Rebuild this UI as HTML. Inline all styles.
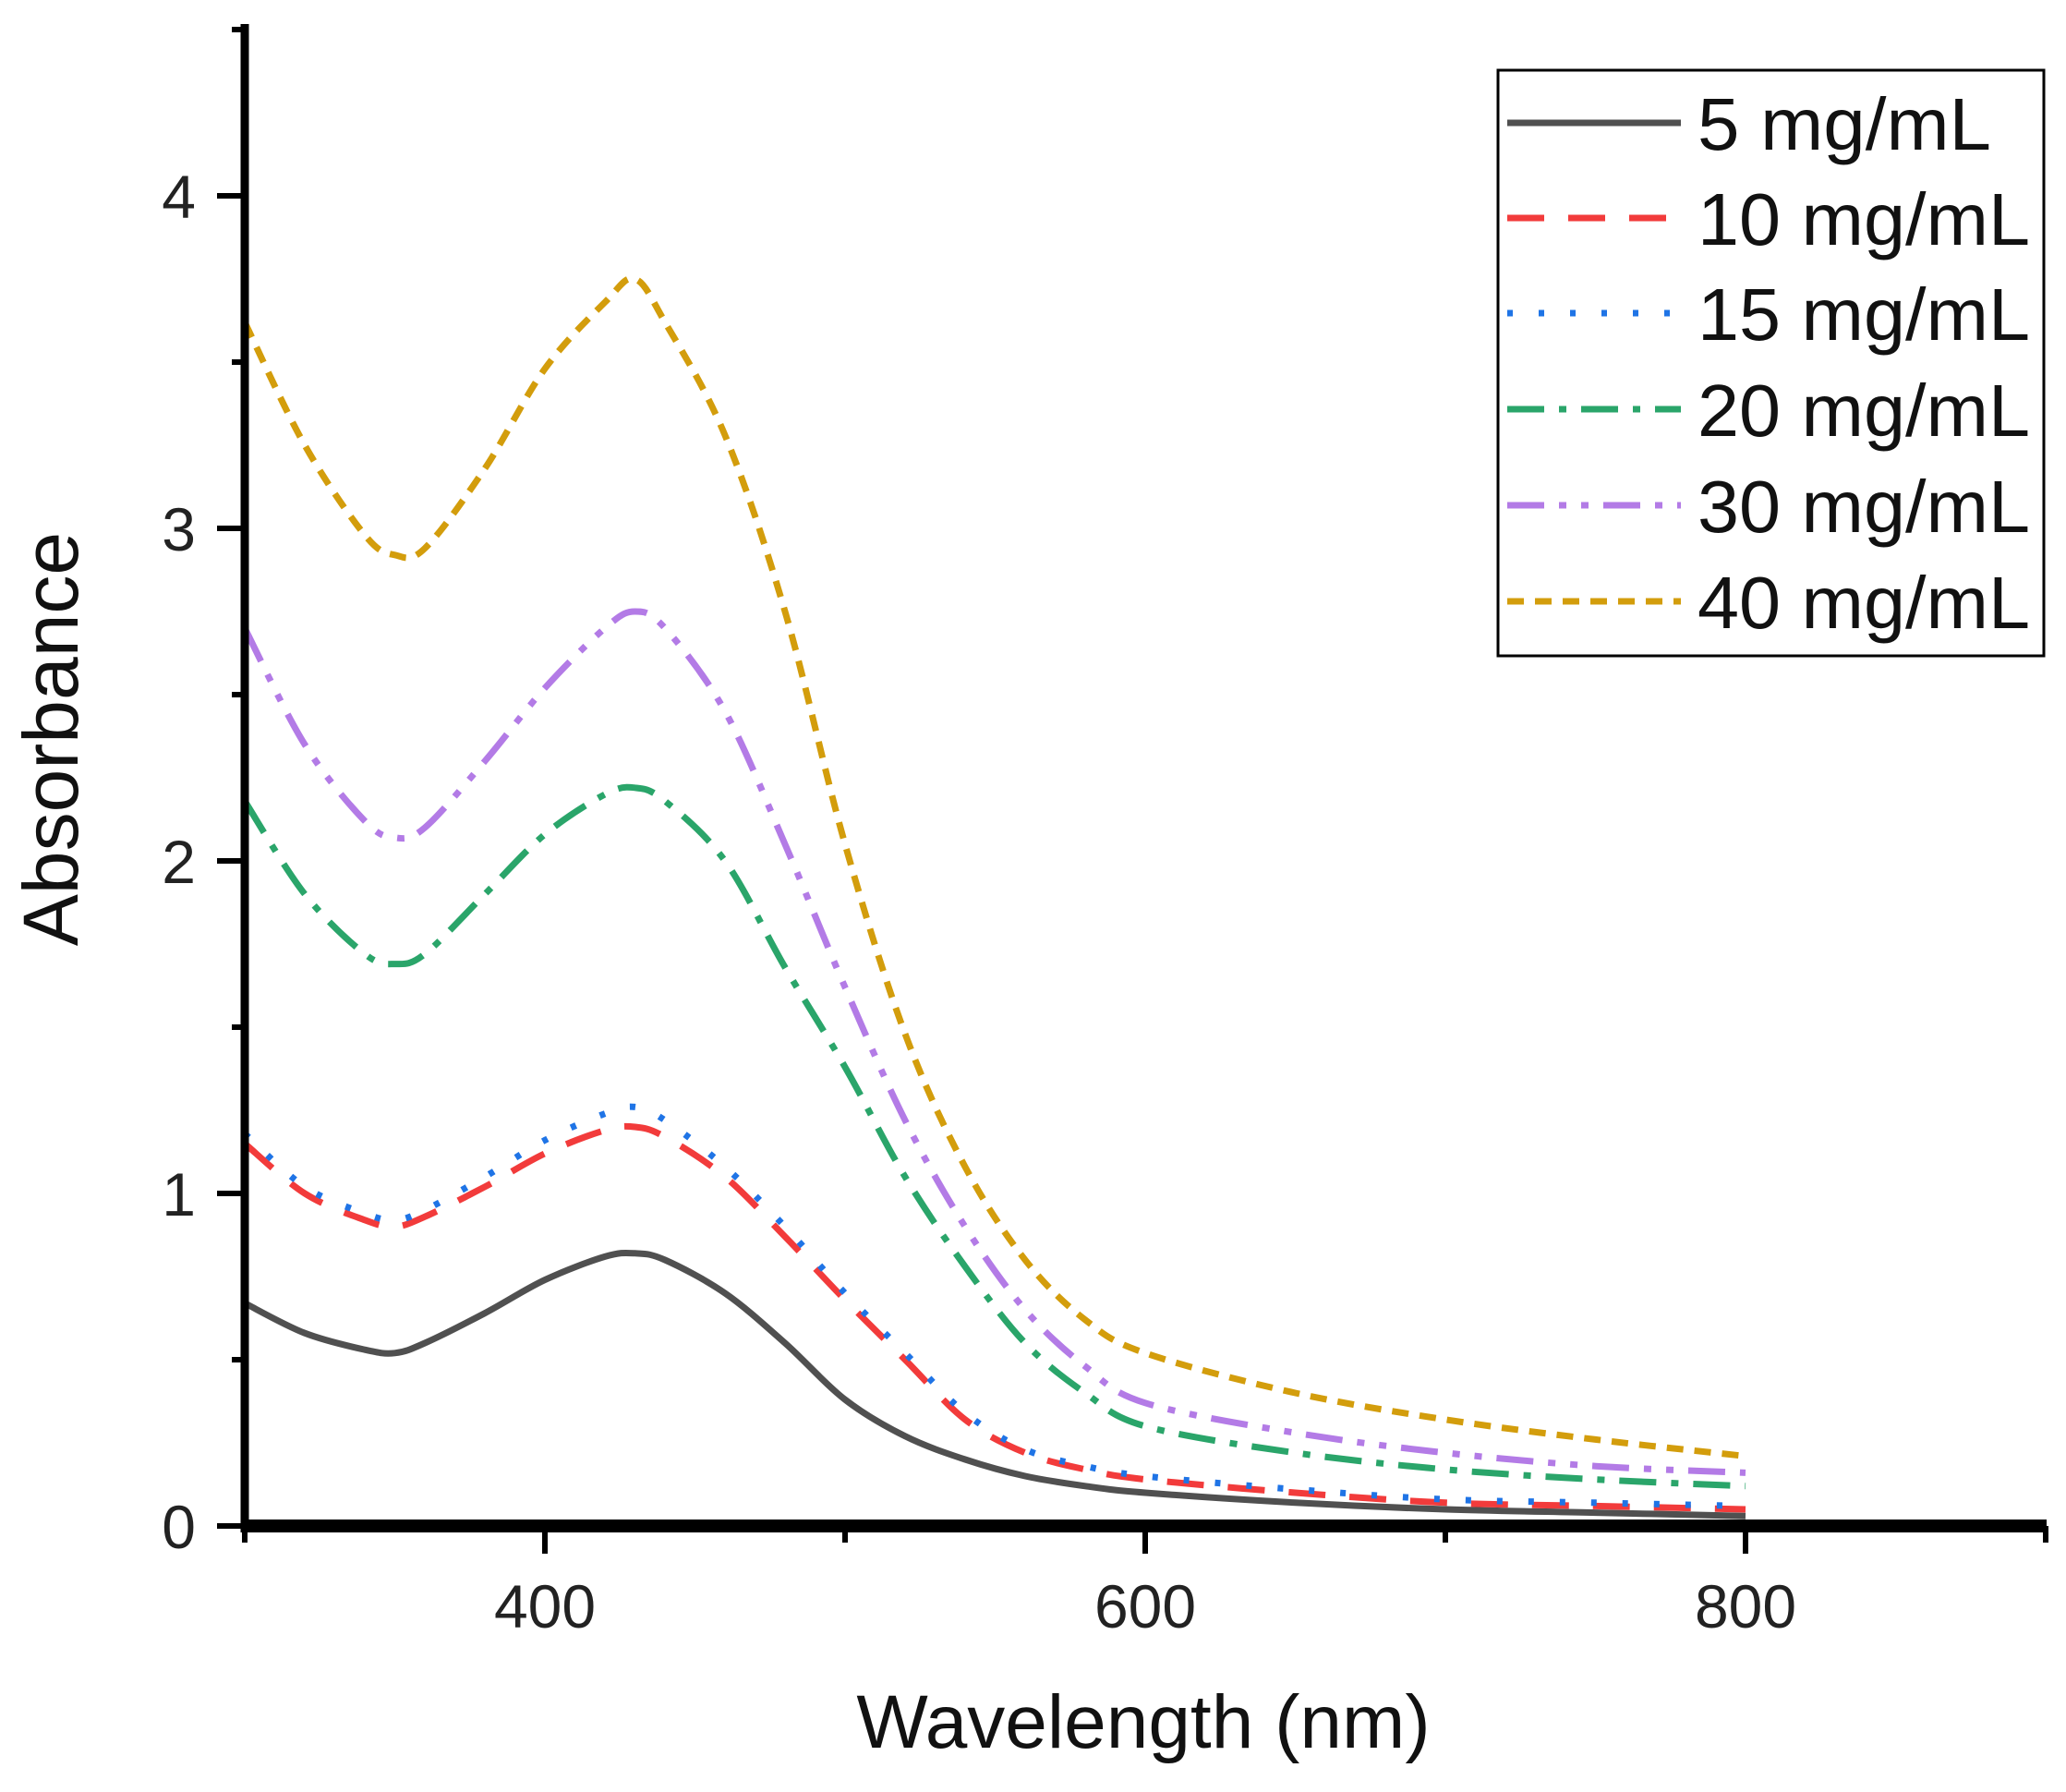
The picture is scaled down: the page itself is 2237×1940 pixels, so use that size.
<!DOCTYPE html>
<html><head><meta charset="utf-8"><style>
html,body{margin:0;padding:0;background:#fff;}
svg text{font-family:"Liberation Sans",Arial,sans-serif;}
</style></head><body>
<svg id="chart" width="2237" height="1935" viewBox="0 0 2237 1935" xmlns="http://www.w3.org/2000/svg">
<g id="plot"></g>
<g id="axes"></g>
<g id="legend"></g>
</svg>
<script>
const wl = [300,320,340,350,360,380,400,420,430,440,460,480,500,520,540,560,580,600,650,700,750,800];
const s5  = [0.67,0.58,0.53,0.52,0.55,0.64,0.74,0.81,0.82,0.80,0.70,0.55,0.38,0.27,0.20,0.15,0.12,0.10,0.07,0.05,0.04,0.03];
const s10 = [1.15,1.00,0.92,0.90,0.93,1.02,1.12,1.19,1.20,1.17,1.05,0.87,0.68,0.50,0.32,0.22,0.17,0.14,0.10,0.07,0.06,0.05];
const s15 = [1.18,1.02,0.94,0.92,0.95,1.05,1.16,1.24,1.26,1.22,1.08,0.90,0.70,0.52,0.34,0.23,0.18,0.15,0.11,0.08,0.07,0.06];
const s20 = [2.18,1.90,1.72,1.69,1.72,1.90,2.08,2.20,2.22,2.18,2.00,1.68,1.38,1.05,0.78,0.55,0.40,0.30,0.22,0.17,0.14,0.12];
const s30 = [2.70,2.35,2.12,2.07,2.10,2.30,2.52,2.70,2.75,2.70,2.45,2.05,1.62,1.22,0.90,0.65,0.48,0.37,0.28,0.22,0.18,0.16];
const s40 = [3.62,3.25,2.98,2.92,2.94,3.18,3.48,3.68,3.75,3.62,3.28,2.75,2.05,1.48,1.08,0.80,0.62,0.52,0.40,0.32,0.26,0.21];
const seriesNames = ["5 mg/mL","10 mg/mL","15 mg/mL","20 mg/mL","30 mg/mL","40 mg/mL"];
const yTicks = [0,1,2,3,4];
const xTicks = [400,600,800];

const NS="http://www.w3.org/2000/svg";
const X0=265, XS=650/200, Y0=1652, YS=360;
const xs = v => X0 + (v-300)*XS;
const ys = v => Y0 - v*YS;
function mk(tag, attrs, parent){const e=document.createElementNS(NS,tag);for(const k in attrs)e.setAttribute(k,attrs[k]);parent.appendChild(e);return e;}
const styles=[
 {c:"#505050",d:""},
 {c:"#f23b3b",d:"40 26"},
 {c:"#1f74e6",d:"6 28"},
 {c:"#2aa56a",d:"40 16 8 16"},
 {c:"#b37be6",d:"40 16 8 16 8 16"},
 {c:"#d39d0c",d:"18 12"}
];
const allSeries=[s5,s10,s15,s20,s30,s40];
const plot=document.getElementById('plot');
function smoothPath(xsArr,ysArr){
  let d="M"+xs(xsArr[0]).toFixed(1)+","+ys(ysArr[0]).toFixed(1);
  for(let i=0;i<xsArr.length-1;i++){
    const p0=[xs(xsArr[Math.max(i-1,0)]),ys(ysArr[Math.max(i-1,0)])];
    const p1=[xs(xsArr[i]),ys(ysArr[i])];
    const p2=[xs(xsArr[i+1]),ys(ysArr[i+1])];
    const p3=[xs(xsArr[Math.min(i+2,xsArr.length-1)]),ys(ysArr[Math.min(i+2,xsArr.length-1)])];
    const c1=[p1[0]+(p2[0]-p0[0])/6,p1[1]+(p2[1]-p0[1])/6];
    const c2=[p2[0]-(p3[0]-p1[0])/6,p2[1]-(p3[1]-p1[1])/6];
    d+=" C"+c1[0].toFixed(1)+","+c1[1].toFixed(1)+" "+c2[0].toFixed(1)+","+c2[1].toFixed(1)+" "+p2[0].toFixed(1)+","+p2[1].toFixed(1);
  }
  return d;
}
allSeries.forEach((s,i)=>{
  const p=mk('path',{d:smoothPath(wl,s),fill:"none",stroke:styles[i].c,"stroke-width":7,"stroke-dasharray":styles[i].d},plot);
  
  
});
const axes=document.getElementById('axes');
let a=mk('line',{x1:X0,y1:26,x2:X0,y2:Y0+7,stroke:"#000","stroke-width":9},axes);

a=mk('line',{x1:X0-4,y1:Y0,x2:2216,y2:Y0,stroke:"#000","stroke-width":14},axes);

for(let v=0.5;v<=4.5;v+=1){const t=mk('line',{x1:X0-14,y1:ys(v),x2:X0,y2:ys(v),stroke:"#000","stroke-width":6},axes);
 }
yTicks.forEach(v=>{
 const t=mk('line',{x1:X0-30,y1:ys(v),x2:X0,y2:ys(v),stroke:"#000","stroke-width":6},axes);
 
 const l=mk('text',{x:212,y:ys(v)+24,"text-anchor":"end","font-size":66,fill:"#222"},axes);
 l.textContent=v;
 
});
[300,500,700,900].forEach(v=>{const t=mk('line',{x1:xs(v),y1:Y0,x2:xs(v),y2:Y0+18,stroke:"#000","stroke-width":6},axes);
 });
xTicks.forEach(v=>{
 const t=mk('line',{x1:xs(v),y1:Y0,x2:xs(v),y2:Y0+30,stroke:"#000","stroke-width":6},axes);
 
 const l=mk('text',{x:xs(v),y:1762,"text-anchor":"middle","font-size":66,fill:"#222"},axes);
 l.textContent=v;
 
});
let tt=mk('text',{x:1238,y:1892,"text-anchor":"middle","font-size":82,fill:"#111"},axes);
tt.textContent="Wavelength (nm)";

tt=mk('text',{x:0,y:0,"text-anchor":"middle","font-size":84,fill:"#111",transform:"translate(84,800) rotate(-90)"},axes);
tt.textContent="Absorbance";

const lg=document.getElementById('legend');
const box=mk('rect',{x:1622,y:76,width:591,height:634,fill:"#fff",stroke:"#000","stroke-width":3},lg);

const rows=[133,236,339,443,547,651];
seriesNames.forEach((n,i)=>{
 const g=mk('g',{},lg);
 
 mk('line',{x1:1632,y1:rows[i],x2:1820,y2:rows[i],stroke:styles[i].c,"stroke-width":7,"stroke-dasharray":styles[i].d},g);
 const t=mk('text',{x:1838,y:rows[i]+29,"font-size":80,fill:"#111",textLength:360,lengthAdjust:"spacingAndGlyphs"},g);
 if(i===0){t.setAttribute('textLength','318');}
 t.textContent=n;
});
</script>
</body></html>
